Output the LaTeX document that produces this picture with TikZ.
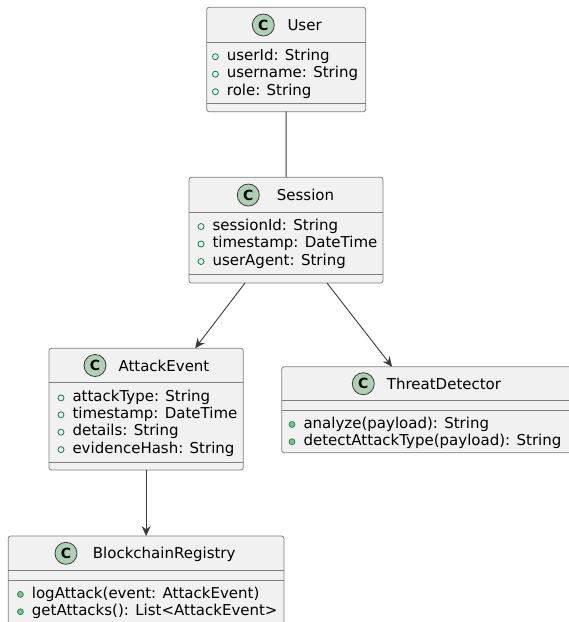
\documentclass[tikz,border=0pt]{standalone}
\usepackage{fontspec}
\setmainfont{DejaVu Sans}
\usetikzlibrary{arrows.meta}

\definecolor{fondclasse}{HTML}{F1F1F1}
\definecolor{bord}{HTML}{7E7E7E}
\definecolor{trait}{HTML}{3A3A3A}
\definecolor{fondicone}{HTML}{ADD1B2}
\definecolor{vertpublic}{HTML}{038048}
\definecolor{vertmethode}{HTML}{84BE84}

\tikzset{
classe/.style={draw=bord, line width=0.8pt, fill=fondclasse,
  rounded corners=2.5pt, anchor=north west, inner sep=0pt, outer sep=0pt},
separateur/.style={draw=bord, line width=0.8pt},
icone/.style={circle, draw=trait, line width=0.8pt, fill=fondicone,
  minimum size=22pt, inner sep=0pt, font=\fontsize{14}{14}\selectfont\bfseries},
nomclasse/.style={anchor=base west, inner sep=0pt,
  font=\fontsize{15}{18}\selectfont},
membre/.style={anchor=west, inner sep=0pt, text height=11pt, text depth=3.5pt,
  font=\fontsize{15}{18}\selectfont},
attribut/.style={membre, label={[circle, draw=vertpublic, line width=0.8pt,
  minimum size=6pt, inner sep=0pt, outer sep=0pt, label distance=8.3pt]left:{}}},
methode/.style={membre, label={[circle, draw=vertpublic, fill=vertmethode,
  line width=0.6pt, minimum size=6pt, inner sep=0pt, outer sep=0pt,
  label distance=8.3pt]left:{}}},
lien/.style={draw=trait, line width=0.9pt},
fleche/.style={lien, -{Stealth[length=10pt, width=9pt, inset=3.5pt]}}
}

\begin{document}
\begin{tikzpicture}[x=1pt, y=-1pt]

\fill[white]
(0,0)
rectangle
(569,622);
\useasboundingbox
(0,0)
rectangle
(569,622);
\clip
(0,0)
rectangle
(569,622);

% Classe User
\node[classe, minimum width=159, minimum height=104.4]
(user)
at (206.7,7.3)
{};
\draw[separateur]
(206.7,42.7)
--
(365.7,42.7);
\draw[separateur]
(206.7,103.3)
--
(365.7,103.3);
\node[icone] (user-c) at (263.3,25) {C};
\node[nomclasse] (user-nom) at (287.3,30.5) {User};
\node[attribut] (user-id) at (226.7,56.7) {userId: String};
\node[attribut] (user-name) at (226.7,74.2) {username: String};
\node[attribut] (user-role) at (226.7,91.7) {role: String};

% Classe Session
\node[classe, minimum width=194, minimum height=105.7]
(session)
at (189,177.3)
{};
\draw[separateur]
(189,212.3)
--
(383,212.3);
\draw[separateur]
(189,274)
--
(383,274);
\node[icone] (session-c) at (248.3,195) {C};
\node[nomclasse] (session-nom) at (276.7,200.5) {Session};
\node[attribut] (session-id) at (212.3,226.5) {sessionId: String};
\node[attribut] (session-time) at (212.3,244) {timestamp: DateTime};
\node[attribut] (session-agent) at (212.3,261.5) {userAgent: String};

% Classe AttackEvent
\node[classe, minimum width=194.3, minimum height=121.7]
(attack)
at (49,348.3)
{};
\draw[separateur]
(49,382.7)
--
(243.3,382.7);
\draw[separateur]
(49,462.3)
--
(243.3,462.3);
\node[icone] (attack-c) at (95,365.5) {C};
\node[nomclasse] (attack-nom) at (118.3,371) {AttackEvent};
\node[attribut] (attack-type) at (72.3,397.9) {attackType: String};
\node[attribut] (attack-time) at (72.3,414.8) {timestamp: DateTime};
\node[attribut] (attack-details) at (72.3,432.2) {details: String};
\node[attribut] (attack-hash) at (72.3,449.6) {evidenceHash: String};

% Classe ThreatDetector
\node[classe, minimum width=293.3, minimum height=86]
(threat)
at (281.7,366.7)
{};
\draw[separateur]
(281.7,400.7)
--
(575,400.7);
\draw[separateur]
(281.7,410)
--
(575,410);
\node[icone] (threat-c) at (363.3,383.7) {C};
\node[nomclasse] (threat-nom) at (386.7,389.2) {ThreatDetector};
\node[methode] (threat-analyze) at (303.3,424.5) {analyze(payload): String};
\node[methode] (threat-detect) at (303.3,441.7) {detectAttackType(payload): String};

% Classe BlockchainRegistry
\node[classe, minimum width=275.7, minimum height=92]
(registry)
at (8.3,536)
{};
\draw[separateur]
(8.3,570.7)
--
(284,570.7);
\draw[separateur]
(8.3,580)
--
(284,580);
\node[icone] (registry-c) at (66,553.3) {C};
\node[nomclasse] (registry-nom) at (92.7,558.8) {BlockchainRegistry};
\node[methode] (registry-log) at (31.7,594.4) {logAttack(event: AttackEvent)};
\node[methode] (registry-get) at (31.7,611.7) {getAttacks(): List<AttackEvent>};

% Liens
\draw[lien]
(user)
--
(session);

\draw[fleche]
([xshift=-41pt]session.south)
--
([xshift=49pt]attack.north);

\draw[fleche]
([xshift=41pt]session.south)
--
([xshift=-36.3pt]threat.north);

\draw[fleche]
(attack.south)
--
(registry.north);

\end{tikzpicture}
\end{document}
